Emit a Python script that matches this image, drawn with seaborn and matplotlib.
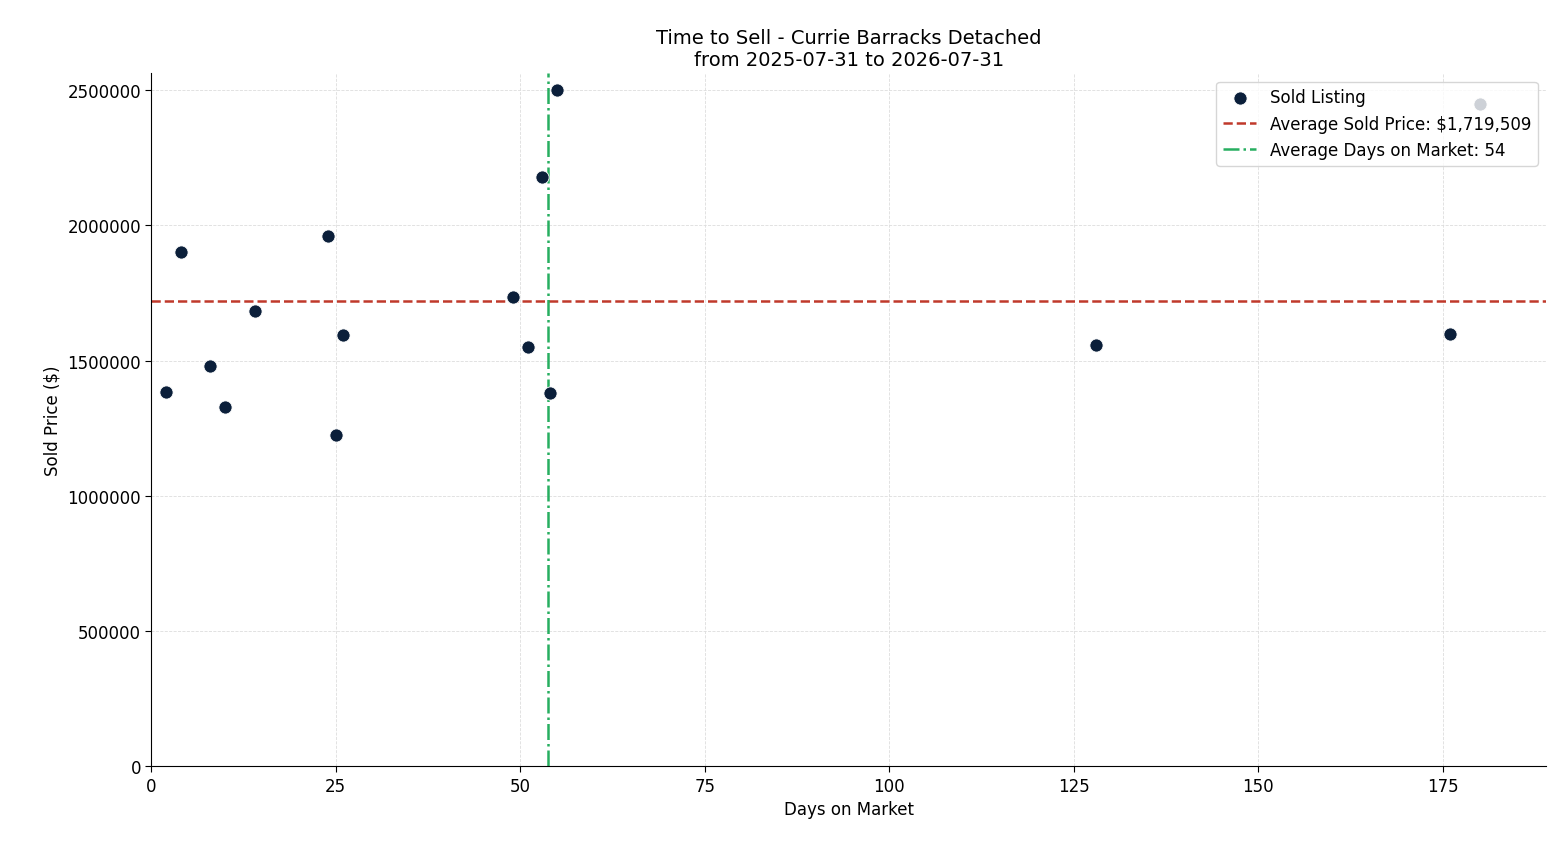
import matplotlib
matplotlib.use("Agg")
import matplotlib.pyplot as plt
import seaborn as sns
import pandas as pd

# Values
days_on_market = [2, 4, 8, 10, 14, 24, 25, 26, 49, 51, 53, 54, 55, 128, 176, 180]
sold_price = [1383000, 1901000, 1479000, 1328000, 1683000, 1960000, 1224000, 1594000,
              1734000, 1550000, 2178000, 1379000, 2500000, 1557000, 1598000, 2448000]
avg_price = 1719509
avg_days = 53.7

df = pd.DataFrame({"days": days_on_market, "price": sold_price})

sns.set_style("white")
plt.rcParams['font.family'] = ['DejaVu Sans']
for key in ["text.color", "axes.labelcolor", "xtick.color", "ytick.color", "axes.edgecolor"]:
    plt.rcParams[key] = "black"

fig, ax = plt.subplots(figsize=(15.6, 8.45), dpi=100)
sns.scatterplot(data=df, x="days", y="price", ax=ax, color="#0b1f3a", s=90,
                edgecolor="white", linewidth=0.6, label="Sold Listing", zorder=3)
ax.axhline(avg_price, color="#c0392b", linestyle="--", linewidth=1.8,
           label=f"Average Sold Price: ${avg_price:,.0f}")
ax.axvline(avg_days, color="#27ae60", linestyle="-.", linewidth=1.8,
           label=f"Average Days on Market: {avg_days:.0f}")

ax.set_xlim(0, max(days_on_market) * 1.05)
ax.set_ylim(0, max(sold_price) * 1.025)
ax.ticklabel_format(axis="y", style="plain")
ax.grid(True, linestyle="--", linewidth=0.6, color="#dddddd")
ax.set_axisbelow(True)
sns.despine(ax=ax)
ax.tick_params(labelsize=12, left=True, bottom=True, length=4)
ax.set_xlabel("Days on Market", fontsize=12)
ax.set_ylabel("Sold Price ($)", fontsize=12)
ax.set_title("Time to Sell - Currie Barracks Detached\nfrom 2025-07-31 to 2026-07-31", fontsize=14)
ax.legend(loc="upper right", fontsize=12, frameon=True)

fig.subplots_adjust(left=0.097, right=0.991, top=0.912, bottom=0.092)
fig.savefig("out.png", dpi=100)
